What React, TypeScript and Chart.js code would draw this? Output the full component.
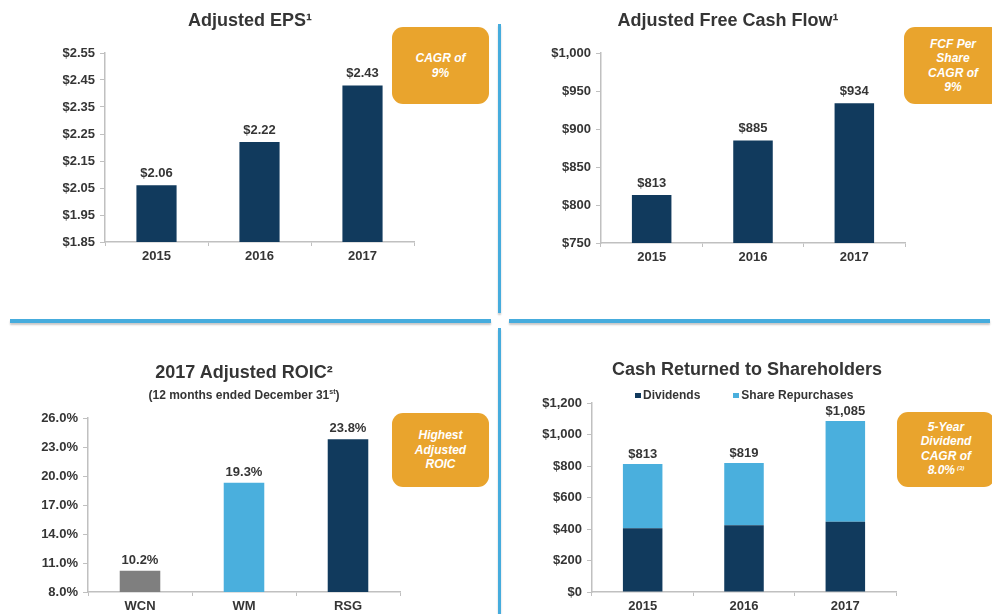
import React, { useEffect, useRef } from "react";
import { Chart, registerables } from "chart.js";

Chart.register(...registerables);

const FONT = "'Liberation Sans', Arial, Helvetica, sans-serif";
Chart.defaults.font.family = FONT;

// ---------- data ----------
const epsYears = ["2015", "2016", "2017"];
const epsValues = [2.06, 2.22, 2.43];
const epsTicks = [1.85, 1.95, 2.05, 2.15, 2.25, 2.35, 2.45, 2.55];

const fcfYears = ["2015", "2016", "2017"];
const fcfValues = [813, 885, 934];
const fcfTicks = [750, 800, 850, 900, 950, 1000];

const roicCompanies = ["WCN", "WM", "RSG"];
const roicValues = [10.2, 19.3, 23.8];
const roicTicks = [8, 11, 14, 17, 20, 23, 26];

const cashYears = ["2015", "2016", "2017"];
const cashDividends = [405, 424, 446];
const cashRepurchases = [408, 395, 639];
const cashTicks = [0, 200, 400, 600, 800, 1000, 1200];

// ---------- colours ----------
const NAVY = "#113a5d";
const LIGHT = "#4aafdd";
const GREY = "#7f7f7f";
const ORANGE = "#e9a42d";
const TEXT = "#353535";
const AXIS = "#c0c0c0";
const DIVIDER = "#46acdd";

const money2 = (v: number) => "$" + v.toFixed(2);
const moneyInt = (v: number) => "$" + Math.round(v).toLocaleString("en-US");
const pct1 = (v: number) => v.toFixed(1) + "%";

function labelPlugin(texts: string[], gap: number) {
  return {
    id: "barValueLabels",
    afterDatasetsDraw(chart: any) {
      const n = chart.data.datasets.length;
      const meta = chart.getDatasetMeta(n - 1);
      const ctx = chart.ctx;
      ctx.save();
      ctx.font = `bold 13px ${FONT}`;
      ctx.fillStyle = TEXT;
      ctx.textAlign = "center";
      ctx.textBaseline = "alphabetic";
      meta.data.forEach((el: any, i: number) => {
        ctx.fillText(texts[i], el.x, el.y - gap);
      });
      ctx.restore();
    },
  };
}

function makeConfig(o: {
  labels: string[];
  datasets: any[];
  ticks: number[];
  fmt: (v: number) => string;
  yWidth: number;
  xHeight: number;
  padTop: number;
  padRight: number;
  stacked?: boolean;
  valueLabels: string[];
  gap: number;
}) {
  return {
    type: "bar",
    data: { labels: o.labels, datasets: o.datasets },
    options: {
      animation: false,
      responsive: true,
      maintainAspectRatio: false,
      layout: { padding: { top: o.padTop, right: o.padRight, left: 0, bottom: 0 } },
      plugins: { legend: { display: false }, title: { display: false }, tooltip: { enabled: false } },
      datasets: { bar: { categoryPercentage: 0.39, barPercentage: 1 } },
      scales: {
        x: {
          stacked: !!o.stacked,
          grid: { drawOnChartArea: false, drawTicks: true, tickLength: 4, color: AXIS, offset: true },
          border: { color: AXIS, width: 1.5 },
          ticks: { color: TEXT, font: { size: 13, weight: "bold" }, padding: 3, maxRotation: 0 },
          afterFit(scale: any) {
            scale.height = o.xHeight;
          },
        },
        y: {
          stacked: !!o.stacked,
          min: o.ticks[0],
          max: o.ticks[o.ticks.length - 1],
          afterBuildTicks(scale: any) {
            scale.ticks = o.ticks.map((v) => ({ value: v }));
          },
          grid: { drawOnChartArea: false, drawTicks: true, tickLength: 5, color: AXIS },
          border: { color: AXIS, width: 1.5 },
          ticks: {
            color: TEXT,
            font: { size: 13, weight: "bold" },
            padding: 5,
            callback: (v: any) => o.fmt(Number(v)),
          },
          afterFit(scale: any) {
            scale.width = o.yWidth;
          },
        },
      },
    },
    plugins: [labelPlugin(o.valueLabels, o.gap)],
  };
}

function ChartBox(props: { left: number; top: number; width: number; height: number; make: () => any }) {
  const ref = useRef<HTMLCanvasElement | null>(null);
  useEffect(() => {
    const c = new Chart(ref.current as HTMLCanvasElement, props.make());
    return () => c.destroy();
  }, []);
  return (
    <div style={{ position: "absolute", left: props.left, top: props.top, width: props.width, height: props.height }}>
      <canvas ref={ref} />
    </div>
  );
}

function Title(props: { cx: number; top: number; size: number; children: any }) {
  return (
    <div
      style={{
        position: "absolute",
        left: props.cx - 220,
        width: 440,
        top: props.top,
        textAlign: "center",
        fontSize: props.size,
        lineHeight: 1,
        fontWeight: "bold",
        color: TEXT,
        whiteSpace: "nowrap",
      }}
    >
      {props.children}
    </div>
  );
}

function Callout(props: { left: number; top: number; width: number; height: number; children: any }) {
  return (
    <div
      style={{
        position: "absolute",
        left: props.left,
        top: props.top,
        width: props.width,
        height: props.height,
        background: ORANGE,
        borderRadius: 11,
        display: "flex",
        alignItems: "center",
        justifyContent: "center",
        textAlign: "center",
        color: "#fff",
        fontStyle: "italic",
        fontWeight: "bold",
        fontSize: 12,
        lineHeight: "14.5px",
      }}
    >
      <div>{props.children}</div>
    </div>
  );
}

const lineStyle = (left: number, top: number, width: number, height: number) => ({
  position: "absolute" as const,
  left,
  top,
  width,
  height,
  background: DIVIDER,
  boxShadow: "0 2px 2px rgba(0,0,0,0.22)",
});

export default function App() {
  return (
    <div
      style={{
        position: "absolute",
        left: 0,
        top: 0,
        width: 992,
        height: 614,
        overflow: "hidden",
        background: "#fff",
        fontFamily: FONT,
      }}
    >
      <ChartBox
        left={0}
        top={0}
        width={500}
        height={310}
        make={() =>
          makeConfig({
            labels: epsYears,
            datasets: [{ data: epsValues, backgroundColor: NAVY }],
            ticks: epsTicks,
            fmt: money2,
            yWidth: 105,
            xHeight: 68,
            padTop: 53,
            padRight: 86,
            valueLabels: epsValues.map(money2),
            gap: 8,
          })
        }
      />
      <ChartBox
        left={500}
        top={0}
        width={492}
        height={310}
        make={() =>
          makeConfig({
            labels: fcfYears,
            datasets: [{ data: fcfValues, backgroundColor: NAVY }],
            ticks: fcfTicks,
            fmt: moneyInt,
            yWidth: 101,
            xHeight: 67,
            padTop: 53,
            padRight: 87,
            valueLabels: fcfValues.map(moneyInt),
            gap: 8,
          })
        }
      />
      <ChartBox
        left={0}
        top={310}
        width={500}
        height={304}
        make={() =>
          makeConfig({
            labels: roicCompanies,
            datasets: [{ data: roicValues, backgroundColor: [GREY, LIGHT, NAVY] }],
            ticks: roicTicks,
            fmt: pct1,
            yWidth: 88,
            xHeight: 22,
            padTop: 108,
            padRight: 100,
            valueLabels: roicValues.map(pct1),
            gap: 7,
          })
        }
      />
      <ChartBox
        left={500}
        top={310}
        width={492}
        height={304}
        make={() =>
          makeConfig({
            labels: cashYears,
            datasets: [
              { label: "Dividends", data: cashDividends, backgroundColor: NAVY },
              { label: "Share Repurchases", data: cashRepurchases, backgroundColor: LIGHT },
            ],
            ticks: cashTicks,
            fmt: moneyInt,
            yWidth: 92,
            xHeight: 22,
            padTop: 93,
            padRight: 96,
            stacked: true,
            valueLabels: cashDividends.map((d, i) => moneyInt(d + cashRepurchases[i])),
            gap: 6,
          })
        }
      />

      {/* titles */}
      <Title cx={250} top={11} size={18}>
        Adjusted EPS¹
      </Title>
      <Title cx={728} top={11} size={18}>
        Adjusted Free Cash Flow¹
      </Title>
      <Title cx={244} top={363} size={18}>
        2017 Adjusted ROIC²
      </Title>
      <Title cx={244} top={389} size={12}>
        (12 months ended December 31
        <span style={{ fontSize: 7, position: "relative", top: -5 }}>st</span>)
      </Title>
      <Title cx={747} top={360} size={18}>
        Cash Returned to Shareholders
      </Title>

      {/* legend */}
      <div
        style={{
          position: "absolute",
          left: 635,
          top: 389,
          fontSize: 12,
          lineHeight: "12px",
          fontWeight: "bold",
          color: TEXT,
          whiteSpace: "nowrap",
          display: "flex",
          alignItems: "center",
        }}
      >
        <span style={{ display: "inline-block", width: 6, height: 5, background: NAVY, marginRight: 2 }} />
        <span>Dividends</span>
        <span style={{ display: "inline-block", width: 6, height: 5, background: LIGHT, marginLeft: 33, marginRight: 2 }} />
        <span>Share Repurchases</span>
      </div>

      {/* callouts */}
      <Callout left={392} top={27} width={97} height={77}>
        CAGR of
        <br />
        9%
      </Callout>
      <Callout left={904} top={27} width={98} height={77}>
        FCF Per
        <br />
        Share
        <br />
        CAGR of
        <br />
        9%
      </Callout>
      <Callout left={392} top={413} width={97} height={74}>
        Highest
        <br />
        Adjusted
        <br />
        ROIC
      </Callout>
      <Callout left={897} top={412} width={98} height={75}>
        5-Year
        <br />
        Dividend
        <br />
        CAGR of
        <br />
        8.0%
        <span style={{ fontSize: 6, position: "relative", top: -4, marginLeft: 2 }}>(3)</span>
      </Callout>

      {/* dividers */}
      <div style={lineStyle(498, 24, 3, 289)} />
      <div style={lineStyle(498, 328, 3, 290)} />
      <div style={lineStyle(10, 319, 481, 4)} />
      <div style={lineStyle(509, 319, 481, 4)} />
    </div>
  );
}
